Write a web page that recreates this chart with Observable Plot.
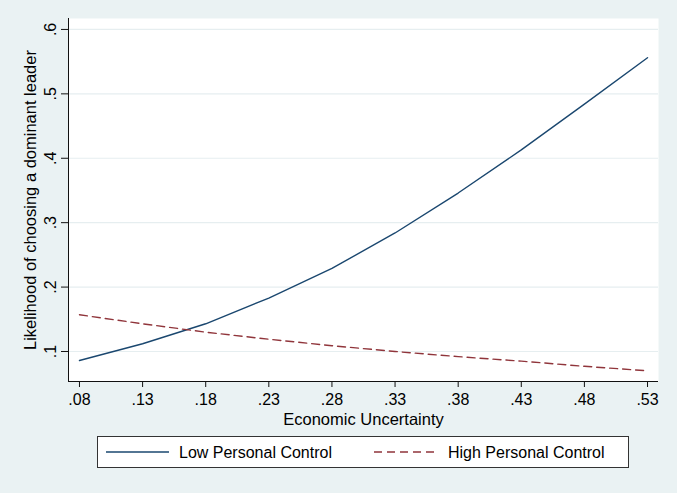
<!DOCTYPE html>
<html>
<head>
<meta charset="utf-8">
<script src="https://cdn.jsdelivr.net/npm/d3@7"></script>
<script src="https://cdn.jsdelivr.net/npm/@observablehq/plot@0.6"></script>
<style>
  html, body { margin: 0; padding: 0; background: #eaf2f3; }
  #wrap { position: relative; width: 677px; height: 493px; background: #eaf2f3; font-family: "Liberation Sans", Arial, sans-serif; overflow: hidden; }
  #legend { position: absolute; left: 97px; top: 436px; width: 530px; height: 30px; background: #fff; border: 1px solid #333; box-sizing: content-box; }
  #legend svg { position: absolute; left: 0; top: 0; }
</style>
</head>
<body>
<div id="wrap"><div id="chart"></div><div id="legend"></div></div>
<script>
const uncertainty = [0.08, 0.13, 0.18, 0.23, 0.28, 0.33, 0.38, 0.43, 0.48, 0.53];
const lowControl  = [0.086, 0.112, 0.143, 0.183, 0.229, 0.284, 0.346, 0.413, 0.484, 0.556];
const highControl = [0.157, 0.143, 0.130, 0.119, 0.109, 0.100, 0.092, 0.085, 0.077, 0.070];
const seriesNames = ["Low Personal Control", "High Personal Control"];
const seriesColors = ["#1a476f", "#90353b"];
const xTickValues = [0.08, 0.13, 0.18, 0.23, 0.28, 0.33, 0.38, 0.43, 0.48, 0.53];
const xTickLabels = [".08", ".13", ".18", ".23", ".28", ".33", ".38", ".43", ".48", ".53"];
const yTickValues = [0.1, 0.2, 0.3, 0.4, 0.5, 0.6];
const yTickLabels = [".1", ".2", ".3", ".4", ".5", ".6"];
const xTitle = "Economic Uncertainty";
const yTitle = "Likelihood of choosing a dominant leader";

const rows = [];
uncertainty.forEach((u, i) => {
  rows.push({x: u, y: lowControl[i], s: seriesNames[0]});
  rows.push({x: u, y: highControl[i], s: seriesNames[1]});
});
const xDomain = [0.0713, 0.5387];
const yDomain = [0.0534, 0.617];
const fontFamily = '"Liberation Sans", Arial, sans-serif';

const chart = Plot.plot({
  width: 677,
  height: 435,
  marginLeft: 68,
  marginRight: 19,
  marginTop: 18,
  marginBottom: 54,
  style: {background: "transparent", fontFamily, fontSize: "16px", color: "#000"},
  x: {domain: xDomain},
  y: {domain: yDomain},
  marks: [
    Plot.frame({fill: "white", stroke: "none"}),
    Plot.ruleY(yTickValues, {stroke: "#e6eef0", strokeWidth: 1.2}),
    Plot.line(rows.filter(d => d.s === seriesNames[0]), {x: "x", y: "y", stroke: seriesColors[0], strokeWidth: 1.4}),
    Plot.line(rows.filter(d => d.s === seriesNames[1]), {x: "x", y: "y", stroke: seriesColors[1], strokeWidth: 1.4, strokeDasharray: "8,5"}),
    Plot.ruleX([xDomain[0]], {stroke: "#111", strokeWidth: 1}),
    Plot.ruleY([yDomain[0]], {stroke: "#111", strokeWidth: 1}),
    Plot.axisX(xTickValues, {tickSize: 6, tickPadding: 6, tickFormat: (d, i) => xTickLabels[i], fontSize: 16, label: null, stroke: "#111"}),
    Plot.axisY(yTickValues, {tickSize: 7, tickFormat: () => "", label: null, stroke: "#111"}),
    Plot.text(yTickValues, {y: d => d, text: (d, i) => yTickLabels[i], frameAnchor: "left", dx: -18, rotate: -90, textAnchor: "middle", lineAnchor: "middle", fontSize: 16, fill: "#000"}),
    Plot.text([xTitle], {frameAnchor: "bottom", dy: 38, text: d => d, textAnchor: "middle", lineAnchor: "middle", fontSize: 16.5, fill: "#000"}),
    Plot.text([yTitle], {frameAnchor: "left", dx: -38, dy: 0, text: d => d, rotate: -90, textAnchor: "middle", lineAnchor: "middle", fontSize: 16.5, fill: "#000"})
  ]
});
document.getElementById("chart").appendChild(chart);

// Legend
const legend = document.getElementById("legend");
const ns = "http://www.w3.org/2000/svg";
const lsvg = document.createElementNS(ns, "svg");
lsvg.setAttribute("width", 530);
lsvg.setAttribute("height", 30);
const entries = [
  {x0: 8, x1: 71, tx: 81, dash: null},
  {x0: 276, x1: 340, tx: 350, dash: "8,5"}
];
entries.forEach((e, i) => {
  const l = document.createElementNS(ns, "line");
  l.setAttribute("x1", e.x0); l.setAttribute("x2", e.x1);
  l.setAttribute("y1", 15); l.setAttribute("y2", 15);
  l.setAttribute("stroke", seriesColors[i]);
  l.setAttribute("stroke-width", 1.4);
  if (e.dash) l.setAttribute("stroke-dasharray", e.dash);
  lsvg.appendChild(l);
  const t = document.createElementNS(ns, "text");
  t.setAttribute("x", e.tx); t.setAttribute("y", 15);
  t.setAttribute("dominant-baseline", "central");
  t.setAttribute("font-size", "16px");
  t.setAttribute("font-family", fontFamily);
  t.textContent = seriesNames[i];
  lsvg.appendChild(t);
});
legend.appendChild(lsvg);
</script>
</body>
</html>
